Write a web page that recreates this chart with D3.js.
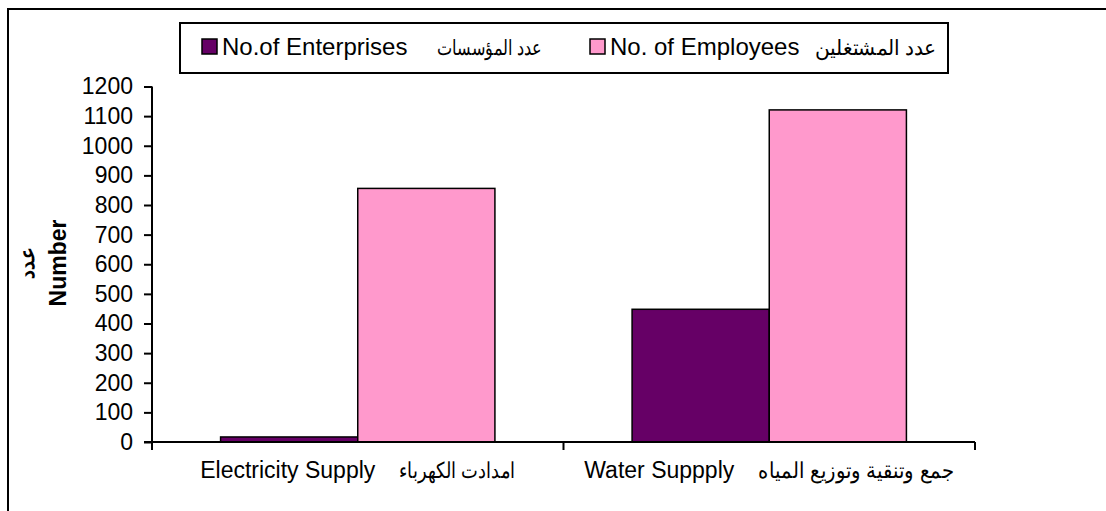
<!DOCTYPE html>
<html><head><meta charset="utf-8">
<script src="https://cdn.jsdelivr.net/npm/d3@7/dist/d3.min.js"></script>
<style>
body{margin:0;background:#fff;}
svg{display:block;font-family:Arial,"Liberation Sans",sans-serif;}
</style></head>
<body><svg id="c" width="1106" height="511"></svg>
<script>
const categoriesEn = ["Electricity Supply", "Water Suppply"];
const categoriesAr = ["امدادت الكهرباء", "جمع وتنقية وتوزيع المياه"];
const seriesNames = ["No.of Enterprises", "No. of Employees"];
const seriesNamesAr = ["عدد المؤسسات", "عدد المشتغلين"];
const enterprises = [17, 448];
const employees = [856, 1121];
const yTicks = [0,100,200,300,400,500,600,700,800,900,1000,1100,1200];
const colors = ["#660066", "#FF99CC"];

const svg = d3.select("#c");
svg.append("rect").attr("x",8).attr("y",9).attr("width",1120).attr("height",530)
  .attr("fill","none").attr("stroke","#000").attr("stroke-width",2);

const m = {left:152, right:975, top:86.5, bottom:442};
const x0 = d3.scaleBand().domain(d3.range(categoriesEn.length)).range([m.left, m.right]).paddingInner(0).paddingOuter(0);
const x1 = d3.scaleBand().domain(d3.range(seriesNames.length)).range([0, x0.bandwidth()]).paddingOuter(0.5).paddingInner(0);
const y = d3.scaleLinear().domain([0,1200]).range([m.bottom, m.top]);

const series = [enterprises, employees];
categoriesEn.forEach((c,i)=>{
  series.forEach((s,j)=>{
    svg.append("rect")
      .attr("x", x0(i)+x1(j)).attr("y", y(s[i]))
      .attr("width", x1.bandwidth()).attr("height", y(0)-y(s[i]))
      .attr("fill", colors[j]).attr("stroke","#000").attr("stroke-width",1.5);
  });
});

// y axis
const ya = svg.append("g").attr("transform",`translate(${m.left},0)`)
  .call(d3.axisLeft(y).tickValues(yTicks).tickSize(8).tickPadding(11).tickFormat(d3.format("d")));
ya.select(".domain").attr("stroke","#000").attr("stroke-width",2).attr("d",`M0,${m.top}V${m.bottom}`);
ya.selectAll(".tick line").attr("stroke","#000").attr("stroke-width",2);
ya.selectAll(".tick text").attr("font-size",23).attr("fill","#000").attr("font-family","Arial,'Liberation Sans',sans-serif");

// x axis
const xa = svg.append("g").attr("transform",`translate(0,${m.bottom})`);
xa.append("line").attr("x1",m.left-8).attr("x2",m.right).attr("stroke","#000").attr("stroke-width",2);
const bounds = [m.left, ...categoriesEn.map((c,i)=>x0(i)+x0.bandwidth())];
bounds.forEach(b=>xa.append("line").attr("x1",b).attr("x2",b).attr("y1",0).attr("y2",8).attr("stroke","#000").attr("stroke-width",2));
const arCatW = [116, 196];
categoriesEn.forEach((c,i)=>{
  const cx = x0(i)+x0.bandwidth()/2;
  const te = svg.append("text").attr("y",478).attr("font-size",23).attr("fill","#000").text(c);
  const wEn = te.node().getComputedTextLength();
  const gap = 24;
  const start = cx - (wEn + gap + arCatW[i])/2;
  te.attr("x", start);
  svg.append("text").attr("x", start+wEn+gap).attr("y",478).attr("font-size",22)
    .attr("textLength",arCatW[i]).attr("lengthAdjust","spacingAndGlyphs").text(categoriesAr[i]);
});

// y title
svg.append("text").attr("transform","translate(66,263) rotate(-90)").attr("text-anchor","middle")
  .attr("font-size",23).attr("font-weight","bold").text("Number");
svg.append("text").attr("transform","translate(34,263) rotate(-90)").attr("text-anchor","middle")
  .attr("font-size",20).attr("font-weight","bold").text("عدد");

// legend
svg.append("rect").attr("x",180).attr("y",23).attr("width",768).attr("height",50)
  .attr("fill","#fff").attr("stroke","#000").attr("stroke-width",2);
const legX = [202, 590];
const legArX = [437, 815];
const legArW = [105, 122];
seriesNames.forEach((n,j)=>{
  svg.append("rect").attr("x",legX[j]).attr("y",39).attr("width",15).attr("height",15)
    .attr("fill",colors[j]).attr("stroke","#000").attr("stroke-width",1.5);
  svg.append("text").attr("x",legX[j]+20).attr("y",55).attr("font-size",24).text(n);
  svg.append("text").attr("x",legArX[j]).attr("y",55).attr("font-size",21)
    .attr("textLength",legArW[j]).attr("lengthAdjust","spacingAndGlyphs").text(seriesNamesAr[j]);
});
</script></body></html>
